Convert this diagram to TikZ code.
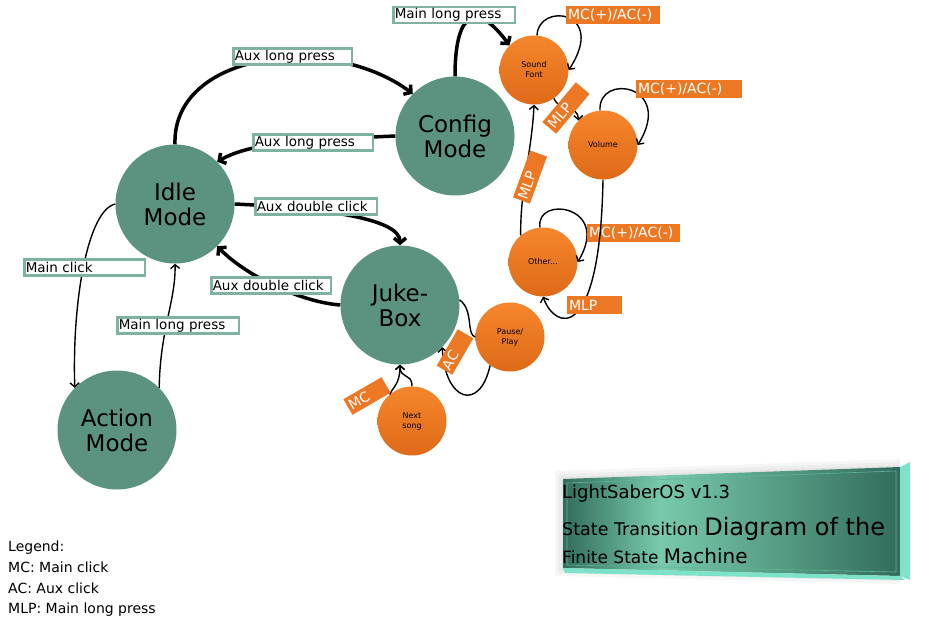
\documentclass[tikz,border=0pt]{standalone}
\usepackage{fontspec}
\setmainfont{DejaVu Sans}
\usetikzlibrary{arrows.meta}

\definecolor{statefill}{RGB}{91,147,128}
\definecolor{edgegreen}{RGB}{128,178,160}
\definecolor{keyorange}{RGB}{236,120,36}
\definecolor{subtop}{RGB}{246,134,44}
\definecolor{subbottom}{RGB}{222,106,24}
\definecolor{platedark}{RGB}{50,108,92}
\definecolor{platelight}{RGB}{120,202,172}
\definecolor{platerim}{RGB}{126,226,200}

\tikzset{
	state/.style={circle, fill=statefill, inner sep=0pt, minimum size=119pt, align=center, font=\fontsize{23}{25}\selectfont},
	substate/.style={circle, top color=subtop, bottom color=subbottom, inner sep=0pt, minimum size=69pt, align=center, font=\fontsize{8}{10}\selectfont},
	evlabel/.style={draw=edgegreen, line width=2.5pt, fill=white, inner sep=1.5pt, minimum height=16pt, align=left, font=\fontsize{13.5}{15}\selectfont},
	keylabel/.style={fill=keyorange, text=white, inner sep=2pt, minimum height=18pt, align=left, font=\fontsize{14}{16}\selectfont},
	heavy/.style={line width=3.5pt, >={Straight Barb[length=5pt,width=12pt]}},
	light/.style={line width=1.4pt, >={Straight Barb[length=4pt,width=9pt]}}
}

\begin{document}
\begin{tikzpicture}[x=1pt, y=1pt]
	\useasboundingbox (0,0) rectangle (931,-628);
	
	% main states
	\node[state] (idle) at (175,-204) {Idle\\Mode};
	\node[state] (config) at (455,-136) {Config\\Mode};
	\node[state] (juke) at (400,-305) {Juke-\\Box};
	\node[state] (action) at (117,-430) {Action\\Mode};
	
	% config and jukebox sub states
	\node[substate] (sound) at (534,-70) {Sound\\Font};
	\node[substate] (volume) at (603,-145) {Volume};
	\node[substate] (other) at (543,-262) {Other...};
	\node[substate] (pause) at (510,-337) {Pause/\\Play};
	\node[substate] (next) at (412,-421) {Next\\song};
	
	% transitions between main states
	\draw[heavy,->] (idle.north) .. controls (172,-52) and (330,-32) .. (config.135);
	\draw[heavy,->] (config.180) .. controls (300,-140) and (250,-143) .. (idle.45);
	\draw[heavy,->] (idle.east) .. controls (320,-208) and (400,-218) .. (juke.north);
	\draw[heavy,->] (juke.west) .. controls (300,-302) and (245,-275) .. (idle.-45);
	\draw[light,->] (idle.180) .. controls (88,-210) and (72,-300) .. (action.135);
	\draw[light,->] (action.45) .. controls (160,-330) and (176,-300) .. (idle.south);
	\draw[heavy,->] (config.north) .. controls (455,-5) and (480,-5) .. (sound.135);
	
	% config menu
	\draw[light,->] (sound.85) .. controls (538,-2) and (608,-10) .. (sound.0);
	\draw[light,->] (sound.-55) .. controls (560,-112) and (578,-105) .. (volume.135);
	\draw[light,->] (volume.95) .. controls (598,-72) and (675,-85) .. (volume.0);
	\draw[light,->] (other.95) .. controls (535,-195) and (612,-205) .. (other.0);
	\draw[light,->] (other.130) .. controls (520,-190) and (532,-150) .. (sound.south);
	
	% jukebox
	\draw[light] (juke.5) .. controls (474,-310) and (466,-335) .. (pause.180);
	\draw[light,->] (pause.235) .. controls (480,-412) and (445,-402) .. (juke.-45);
	\draw[light,->] (next.north) .. controls (412,-372) and (400,-380) .. (juke.south);
	\draw[light,->] (next.130) .. controls (392,-388) and (400,-385) .. (juke.south);
	
	% button labels
	\node[evlabel, text width=118.5pt] (lmainlong) at (454,-15) {Main long press};
	\node[evlabel, text width=115.5pt] (lauxlong) at (292.5,-56.5) {Aux long press};
	\node[evlabel, text width=116.5pt] (lauxback) at (313,-142.5) {Aux long press};
	\node[evlabel, text width=118.5pt] (lauxdbl) at (316,-206.5) {Aux double click};
	\node[evlabel, text width=116.5pt] (lauxdblback) at (271,-285.5) {Aux double click};
	\node[evlabel, text width=117.5pt] (lmainclick) at (84.5,-267.5) {Main click};
	\node[evlabel, text width=118.5pt] (lmainback) at (178,-325.5) {Main long press};
	
	% key labels
	\node[keylabel, text width=90pt] (lsound) at (613,-15) {MC(+)/AC(-)};
	\node[keylabel, text width=102pt] (lvolume) at (689,-89) {MC(+)/AC(-)};
	\node[keylabel, text width=89pt] (lother) at (633.5,-233) {MC(+)/AC(-)};
	\draw[light,->] (volume.south) .. controls (600,-345) and (555,-330) .. (other.-90);
	\node[keylabel, text width=51pt] (lmlpother) at (594.5,-305) {MLP};
	\node[keylabel, text width=48pt, rotate=50] (lmlpsound) at (566,-108) {MLP};
	\node[keylabel, text width=46pt, rotate=70] (lmlpup) at (530,-177) {MLP};
	\node[keylabel, text width=38pt, rotate=60] (lac) at (455,-352) {AC};
	\node[keylabel, text width=40pt, rotate=30] (lmc) at (367,-396) {MC};
	
	% legend
	\node[anchor=north west, inner sep=0pt, align=left, font=\fontsize{14}{20.7}\selectfont] (legend) at (8,-541)
		{Legend:\\MC: Main click\\AC: Aux click\\MLP: Main long press};
	
	% title plate
	\foreach \s in {2,5,8}
		\fill[black, opacity=0.035] (563-\s,-479+\s) -- (900,-467+\s) -- (900,-576-\s) -- (563-\s,-568-\s) -- cycle;
	\shade[left color=platedark, right color=platelight] (563,-479) -- (660,-475.5) -- (660,-570.3) -- (563,-568) -- cycle;
	\shade[left color=platelight, right color=platedark] (660,-475.5) -- (900,-467) -- (900,-576) -- (660,-570.3) -- cycle;
	\fill[platerim] (563,-568) -- (900,-576) -- (905,-580) -- (565,-573) -- cycle;
	\fill[platerim] (900,-467) -- (910,-462) -- (910,-580) -- (900,-576) -- cycle;
	\draw[platerim!60!platedark, line width=0.6pt] (567,-483) -- (896,-471) -- (896,-572) -- (567,-565) -- cycle;
	\node[anchor=base west, inner sep=0pt, font=\fontsize{18}{20}\selectfont] (titleone) at (562,-498) {LightSaberOS v1.3};
	\node[anchor=base west, inner sep=0pt, font=\fontsize{17.5}{20}\selectfont] (titletwo) at (562,-535)
		{State Transition {\fontsize{24}{26}\selectfont Diagram of the}};
	\node[anchor=base west, inner sep=0pt, font=\fontsize{17}{20}\selectfont] (titlethree) at (562,-563)
		{Finite State {\fontsize{20}{22}\selectfont Machine}};
	
\end{tikzpicture}
\end{document}
